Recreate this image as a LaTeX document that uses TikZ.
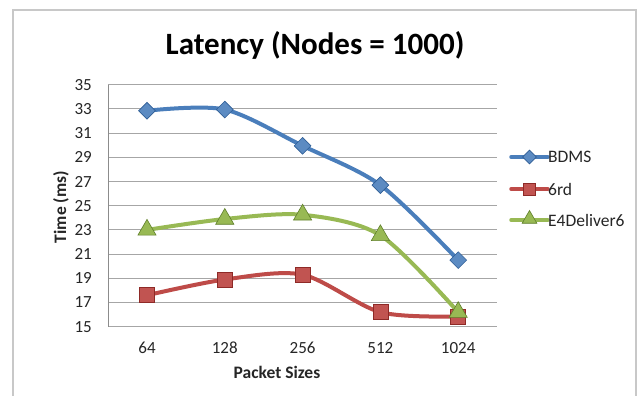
\documentclass[tikz,border=0pt]{standalone}
\usepackage{fontspec}
\setmainfont{Carlito}
\usetikzlibrary{shapes.geometric}
\definecolor{framec}{HTML}{C8C8C8}
\definecolor{gridc}{HTML}{A6A6A6}
\definecolor{axisc}{HTML}{8C8C8C}
\definecolor{bdmsc}{HTML}{4A7EBB}
\definecolor{bdmsd}{HTML}{2F5E96}
\definecolor{rdc}{HTML}{BE4B48}
\definecolor{rdd}{HTML}{8E2A27}
\definecolor{e4c}{HTML}{98B954}
\definecolor{e4d}{HTML}{5F7F2A}
\tikzset{
  tick/.style={font=\fontsize{17}{20}\selectfont, text=black!85, inner sep=0pt},
  legtext/.style={font=\fontsize{17.5}{20}\selectfont, text=black!85, inner sep=0pt},
  axlabel/.style={font=\bfseries\fontsize{17.5}{20}\selectfont, text=black!85, inner sep=0pt},
  series/.style={line width=4pt, line cap=round, line join=round},
  bdmsline/.style={series, draw=bdmsc},
  rdline/.style={series, draw=rdc},
  e4line/.style={series, draw=e4c},
  bdmsmark/.style={diamond, draw=bdmsd, line width=0.6pt, fill=bdmsc!90!white, minimum width=17pt, minimum height=17pt, inner sep=0pt},
  rdmark/.style={rectangle, draw=rdd, line width=0.6pt, fill=rdc!95!white, minimum size=15pt, inner sep=0pt},
  e4mark/.style={regular polygon, regular polygon sides=3, draw=e4d, line width=0.6pt, fill=e4c, minimum size=21pt, inner sep=0pt},
}
\begin{document}
\begin{tikzpicture}[x=1pt,y=-1pt]
\useasboundingbox (0,0) rectangle (637,396);
\fill[white] (0,0) rectangle (637,396);
% chart frame
\draw[framec, line width=1.5pt] (13,396) -- (13,10) -- (636,10) -- (636,396);
% title
\node[font=\bfseries\fontsize{31}{36}\selectfont, inner sep=0pt] (title) at (315,45) {Latency (Nodes = 1000)};
% horizontal grid and value labels
\foreach \v in {15,17,...,35} {
  \draw[gridc, line width=1pt] (108,{326.7-12.1*(\v-15)}) -- (497,{326.7-12.1*(\v-15)});
  \node[tick, anchor=east] (t\v) at (92,{326.7-12.1*(\v-15)}) {\v};
}
\draw[axisc, line width=1pt] (108,84.7) -- (108,326.7);
% category labels
\foreach \c [count=\i from 0] in {64,128,256,512,1024}
  \node[tick] (c\i) at ({147+77.8*\i},348) {\c};
\node[axlabel] (xlab) at (277,372) {Packet Sizes};
\node[axlabel, rotate=90] (ylab) at (61,207) {Time (ms)};
% data series
\begin{scope}[shift={(147,326.7)}, x=77.8pt, y=12.1pt]
  \foreach \v [count=\i from 0] in {32.85,32.95,29.95,26.7,20.5}
    \coordinate (b\i) at (\i,\v-15);
  \foreach \v [count=\i from 0] in {17.6,18.9,19.3,16.2,15.85}
    \coordinate (r\i) at (\i,\v-15);
  \foreach \v [count=\i from 0] in {23.0,23.9,24.25,22.55,16.2}
    \coordinate (g\i) at (\i,\v-15);
  \draw[rdline] plot[smooth, tension=0.5] coordinates {(r0) (r1) (r2) (r3) (r4)};
  \draw[bdmsline] plot[smooth, tension=0.5] coordinates {(b0) (b1) (b2) (b3) (b4)};
  \draw[e4line] plot[smooth, tension=0.5] coordinates {(g0) (g1) (g2) (g3) (g4)};
  \foreach \i in {0,...,4} {
    \node[bdmsmark] (mb\i) at (b\i) {};
    \node[rdmark] (mr\i) at (r\i) {};
    \node[e4mark] (mg\i) at (g\i) {};
  }
\end{scope}
% legend
\coordinate (la1) at (511,157); \coordinate (lb1) at (548,157);
\coordinate (la2) at (511,189); \coordinate (lb2) at (548,189);
\coordinate (la3) at (511,220); \coordinate (lb3) at (548,220);
\draw[bdmsline, line width=3.5pt] (la1) -- (lb1);
\draw[rdline, line width=3.5pt] (la2) -- (lb2);
\draw[e4line, line width=3.5pt] (la3) -- (lb3);
\node[bdmsmark, minimum width=14pt, minimum height=14pt] (lm1) at (529.5,157) {};
\node[rdmark, minimum size=12pt] (lm2) at (529.5,189) {};
\node[e4mark, minimum size=17pt] (lm3) at (529.5,219) {};
\node[legtext, anchor=west] (lt1) at (lb1) {BDMS};
\node[legtext, anchor=west] (lt2) at (lb2) {6rd};
\node[legtext, anchor=west] (lt3) at (lb3) {E4Deliver6};
\end{tikzpicture}
\end{document}
